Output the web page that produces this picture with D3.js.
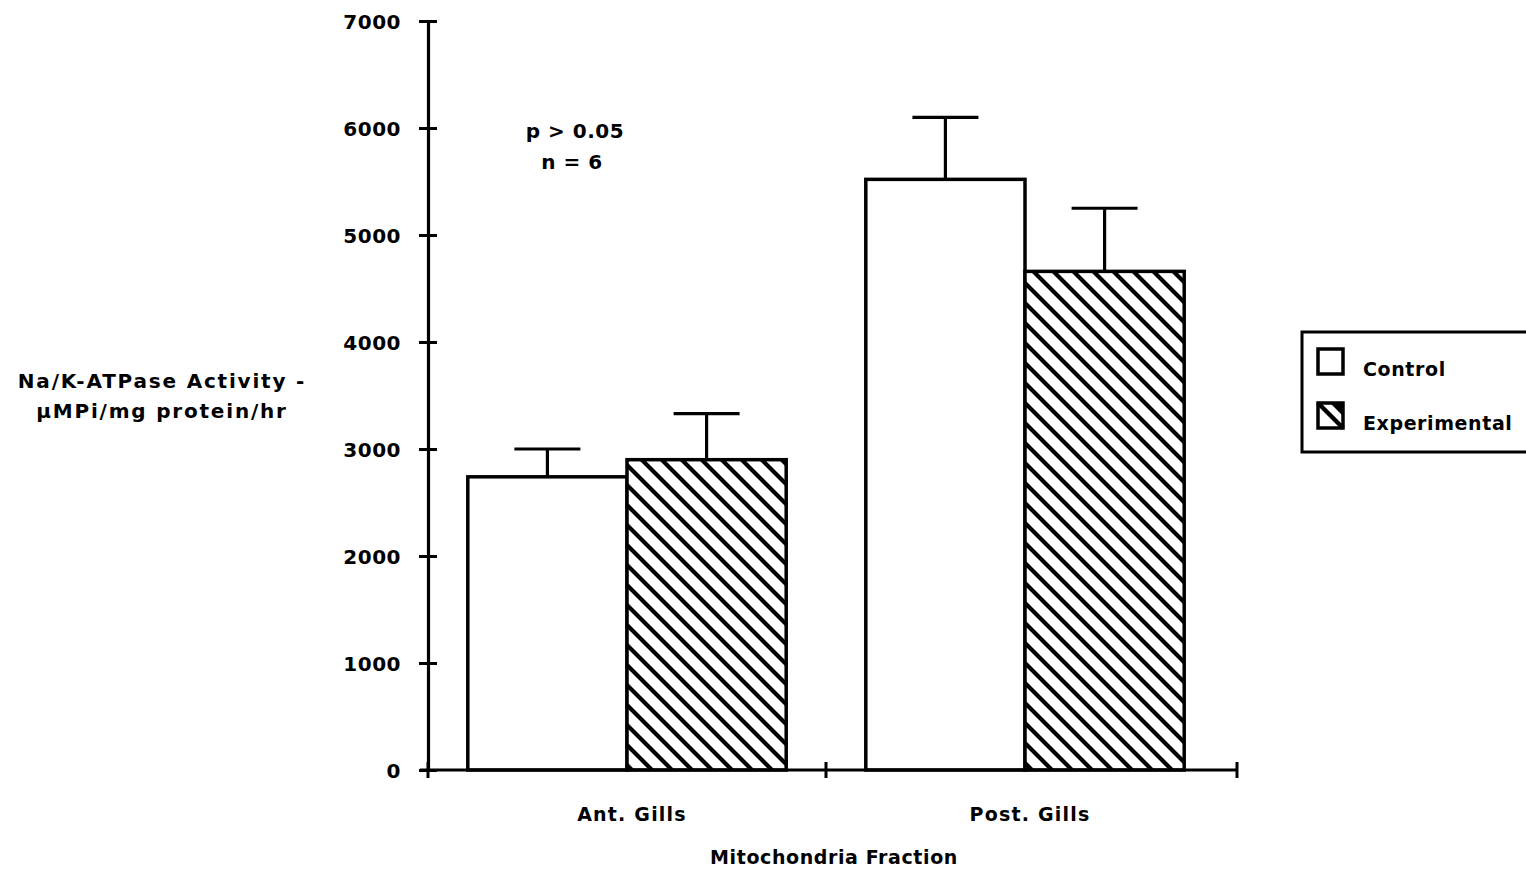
<!DOCTYPE html>
<html>
<head>
<meta charset="utf-8">
<script src="https://cdn.jsdelivr.net/npm/d3@7"></script>
<style>
  html, body { margin: 0; padding: 0; background: #fff; }
  svg { display: block; }
  text { font-family: "DejaVu Sans", "Liberation Sans", sans-serif; font-weight: bold; fill: #000; }
</style>
</head>
<body>
<svg id="chart" width="1526" height="874"></svg>
<script>
// Na/K-ATPase activity in mitochondria fractions of gill tissue
const categories = ["Ant. Gills", "Post. Gills"];
const groups = ["Control", "Experimental"];
const controlMeans = [2740, 5520];
const controlErrors = [260, 580];
const experimentalMeans = [2900, 4660];
const experimentalErrors = [430, 590];
const yTicks = [0, 1000, 2000, 3000, 4000, 5000, 6000, 7000];
const yLabelLines = ["Na/K-ATPase Activity -", "\u00B5MPi/mg protein/hr"];
const xLabel = "Mitochondria Fraction";
const noteLines = ["p > 0.05", "n = 6"];

const rows = [];
categories.forEach((c, i) => {
  rows.push({ category: c, group: groups[0], mean: controlMeans[i], err: controlErrors[i] });
  rows.push({ category: c, group: groups[1], mean: experimentalMeans[i], err: experimentalErrors[i] });
});

const svg = d3.select("#chart");
const x0 = 428, xBandEnd = 1224, xAxisEnd = 1237, yBase = 770, yTop = 21;

const y = d3.scaleLinear().domain([0, 7000]).range([yBase, yTop]);
const xBand = d3.scaleBand().domain(categories).range([x0, xBandEnd]).paddingInner(0).paddingOuter(0);
const xGroup = d3.scaleBand().domain(groups).range([0, xBand.bandwidth()]).paddingOuter(0.25).paddingInner(0);

// Diagonal hatch fill for the experimental series
const defs = svg.append("defs");
const pat = defs.append("pattern")
  .attr("id", "hatch")
  .attr("patternUnits", "userSpaceOnUse")
  .attr("width", 20).attr("height", 20)
  .attr("x", 2).attr("y", 0);
pat.append("rect").attr("width", 20).attr("height", 20).attr("fill", "#fff");
pat.append("path")
  .attr("d", "M-5,-5L25,25M-5,15L5,25M15,-5L25,5")
  .attr("stroke", "#000").attr("stroke-width", 4.2);

const fillFor = g => g === "Control" ? "#fff" : "url(#hatch)";

// Bars
const bars = svg.append("g");
bars.selectAll("rect").data(rows).join("rect")
  .attr("x", d => xBand(d.category) + xGroup(d.group))
  .attr("y", d => y(d.mean))
  .attr("width", xGroup.bandwidth())
  .attr("height", d => y(0) - y(d.mean))
  .attr("fill", d => fillFor(d.group))
  .attr("stroke", "#000")
  .attr("stroke-width", 3.5);

// Error bars (upper whisker)
const capW = 66;
const eb = svg.append("g").attr("stroke", "#000").attr("stroke-width", 3.2);
rows.forEach(d => {
  const cx = xBand(d.category) + xGroup(d.group) + xGroup.bandwidth() / 2;
  eb.append("line").attr("x1", cx).attr("x2", cx)
    .attr("y1", y(d.mean)).attr("y2", y(d.mean + d.err));
  eb.append("line").attr("x1", cx - capW / 2).attr("x2", cx + capW / 2)
    .attr("y1", y(d.mean + d.err)).attr("y2", y(d.mean + d.err));
});

// Y axis
const yAxis = d3.axisLeft(y).tickValues(yTicks).tickSizeInner(9).tickSizeOuter(0).tickPadding(18)
  .tickFormat(d3.format("d"));
const gy = svg.append("g").attr("transform", `translate(${x0},0)`).call(yAxis);
gy.select(".domain").attr("stroke", "#000").attr("stroke-width", 3.2);
gy.selectAll(".tick line").attr("stroke", "#000").attr("stroke-width", 3).attr("x2", 9).attr("x1", -9);
gy.selectAll(".tick text").attr("font-size", 20).attr("font-family", "DejaVu Sans")
  .attr("font-weight", "bold").attr("dy", "0.35em").attr("letter-spacing", 0.5);

// X axis
const xAxis = d3.axisBottom(xBand).tickSize(0).tickPadding(0).tickFormat(() => "");
const gx = svg.append("g").attr("transform", `translate(0,${yBase})`).call(xAxis);
gx.select(".domain").attr("stroke", "#000").attr("stroke-width", 3.2)
  .attr("d", `M${x0 - 8},0H${xAxisEnd}`);
const xTickPos = [x0, ...categories.slice(1).map(c => xBand(c)), xAxisEnd];
gx.selectAll(".sep").data(xTickPos).join("line")
  .attr("x1", d => d).attr("x2", d => d).attr("y1", -8).attr("y2", 8)
  .attr("stroke", "#000").attr("stroke-width", 3);
gx.selectAll(".cat").data(categories).join("text")
  .attr("x", d => xBand(d) + xBand.bandwidth() / 2 + 5)
  .attr("y", 51).attr("text-anchor", "middle").attr("font-size", 19).attr("letter-spacing", 1.2)
  .text(d => d);

svg.append("text").attr("x", 834).attr("y", 864).attr("text-anchor", "middle")
  .attr("font-size", 19).attr("letter-spacing", 0.6).text(xLabel);

// Y label
const yl = svg.append("text").attr("text-anchor", "middle").attr("font-size", 20).attr("letter-spacing", 1.8);
yLabelLines.forEach((t, i) => yl.append("tspan").attr("x", 162).attr("y", 388 + i * 30).text(t));

// Statistics note
const nt = svg.append("text").attr("text-anchor", "middle").attr("font-size", 20).attr("letter-spacing", 0.5);
nt.append("tspan").attr("x", 575).attr("y", 138).text(noteLines[0]);
nt.append("tspan").attr("x", 572).attr("y", 169).text(noteLines[1]);

// Legend
const lg = svg.append("g");
lg.append("rect").attr("x", 1302).attr("y", 332).attr("width", 240).attr("height", 120)
  .attr("fill", "#fff").attr("stroke", "#000").attr("stroke-width", 3);
groups.forEach((g, i) => {
  const sy = 349 + i * 54;
  lg.append("rect").attr("x", 1318).attr("y", sy).attr("width", 25).attr("height", 25)
    .attr("fill", "#fff").attr("stroke", "#000").attr("stroke-width", 3.5);
  if (g !== "Control") {
    lg.append("path").attr("d", `M1318,${sy}L1343,${sy + 25}`).attr("stroke", "#000").attr("stroke-width", 4.5);
    lg.append("path").attr("d", `M1330,${sy}L1343,${sy}L1343,${sy + 13}Z`).attr("fill", "#000");
  }
  lg.append("text").attr("x", 1363).attr("y", sy + 27).attr("font-size", 19).attr("letter-spacing", 0.6).text(g);
});
</script>
</body>
</html>
